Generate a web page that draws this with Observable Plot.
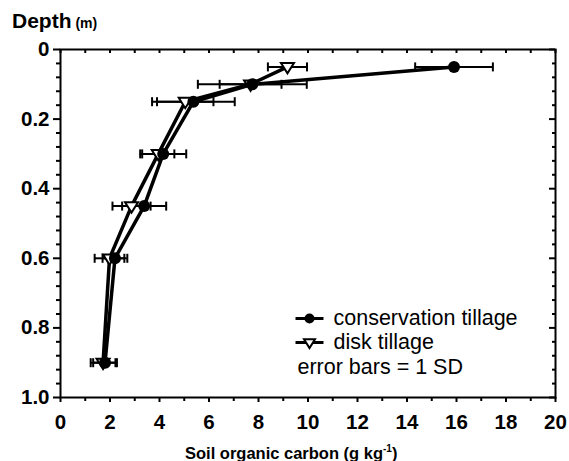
<!DOCTYPE html>
<html><head><meta charset="utf-8">
<script src="https://cdn.jsdelivr.net/npm/d3@7"></script>
<script src="https://cdn.jsdelivr.net/npm/@observablehq/plot@0.6"></script>
<style>
body{margin:0;background:#fff;}
#chart svg text{font-family:"Liberation Sans",Arial,sans-serif;}
</style>
</head><body><div id="chart"></div>
<script>
// Depth (m) of each sample layer
const depths = [0.05, 0.1, 0.15, 0.3, 0.45, 0.6, 0.9];
// Conservation tillage: soil organic carbon (g/kg) and 1 SD
const ctMean = [15.9, 7.75, 5.37, 4.15, 3.38, 2.2, 1.8];
const ctSD   = [1.57, 2.2, 1.67, 0.93, 0.89, 0.5, 0.48];
// Disk tillage
const dtMean = [9.17, 7.68, 5.04, 3.95, 2.87, 1.98, 1.72];
const dtSD   = [0.79, 1.25, 1.14, 0.65, 0.77, 0.6, 0.5];
// Axis ticks
const xLabelTicks = [0, 2, 4, 6, 8, 10, 12, 14, 16, 18, 20];
const xMinorTicks = [1, 3, 5, 7, 9, 11, 13, 15, 17, 19];
const xAllTicks = [0,1,2,3,4,5,6,7,8,9,10,11,12,13,14,15,16,17,18,19,20];
const yLabelTicks = [0, 0.2, 0.4, 0.6, 0.8, 1.0];
const yMinorTicks = [0.04,0.08,0.12,0.16,0.24,0.28,0.32,0.36,0.44,0.48,0.52,0.56,0.64,0.68,0.72,0.76,0.84,0.88,0.92,0.96];
const legendLabels = ["conservation tillage", "disk tillage", "error bars = 1 SD"];

const ct = depths.map((d, i) => ({depth: d, mean: ctMean[i], sd: ctSD[i]}));
const dt = depths.map((d, i) => ({depth: d, mean: dtMean[i], sd: dtSD[i]}));
const all = ct.concat(dt);

const W = 569, H = 461, ML = 60, MR = 14, MT = 49, MB = 64;
const PW = W - ML - MR, PH = H - MT - MB;

const vline = {draw(ctx, size) { const r = Math.sqrt(size / Math.PI); ctx.moveTo(0, -r); ctx.lineTo(0, r); }};
const hline = {draw(ctx, size) { const r = Math.sqrt(size / Math.PI); ctx.moveTo(-r, 0); ctx.lineTo(r, 0); }};
const triDown = {draw(ctx, size) { const r = Math.sqrt(size / Math.PI); ctx.moveTo(-r, -0.6 * r); ctx.lineTo(r, -0.6 * r); ctx.lineTo(0, r); ctx.closePath(); }};
const blank = () => "";

const plot = Plot.plot({
  width: W, height: H,
  marginLeft: ML, marginRight: MR, marginTop: MT, marginBottom: MB,
  style: {background: "white", color: "black", fontFamily: "'Liberation Sans', Arial, sans-serif"},
  x: {domain: [0, 20]},
  y: {domain: [0, 1], reverse: true},
  marks: [
    // axes
    Plot.axisX({ticks: xLabelTicks, tickSize: 5, tickPadding: 12, fontSize: 20.5, label: null, strokeWidth: 2, tickFormat: d => String(d)}),
    Plot.axisX({ticks: xMinorTicks, tickSize: 4, strokeWidth: 2, label: null, tickFormat: blank}),
    Plot.axisY({ticks: yLabelTicks, tickSize: 7, tickPadding: 4, fontSize: 20.5, label: null, strokeWidth: 2, tickFormat: d => d === 0 ? "0" : d.toFixed(1)}),
    Plot.axisY({ticks: yMinorTicks, tickSize: 4, strokeWidth: 2, label: null, tickFormat: blank}),
    // inward ticks on top and right
    Plot.tickX(xAllTicks, {x: d => d, insetBottom: PH - 4, strokeWidth: 2}),
    Plot.tickY(yLabelTicks, {y: d => d, insetLeft: PW - 6, strokeWidth: 2}),
    Plot.tickY(yMinorTicks, {y: d => d, insetLeft: PW - 3, strokeWidth: 2}),
    Plot.frame({strokeWidth: 2}),
    // error bars
    Plot.ruleY(all, {y: "depth", x1: d => d.mean - d.sd, x2: d => d.mean + d.sd, strokeWidth: 2}),
    Plot.dot(all, {x: d => d.mean - d.sd, y: "depth", symbol: vline, r: 4.5, stroke: "black", strokeWidth: 2, fill: "none"}),
    Plot.dot(all, {x: d => d.mean + d.sd, y: "depth", symbol: vline, r: 4.5, stroke: "black", strokeWidth: 2, fill: "none"}),
    // lines
    Plot.line(dt, {x: "mean", y: "depth", stroke: "black", strokeWidth: 3.5}),
    Plot.line(ct, {x: "mean", y: "depth", stroke: "black", strokeWidth: 3.5}),
    // markers
    Plot.dot(dt, {x: "mean", y: "depth", symbol: triDown, r: 6.5, fill: "white", stroke: "black", strokeWidth: 2}),
    Plot.dot(ct, {x: "mean", y: "depth", r: 6, fill: "black", stroke: "none"}),
    // legend
    Plot.dot([0], {x: null, y: null, frameAnchor: "top-left", dx: 249, dy: 269, symbol: hline, r: 14, stroke: "black", strokeWidth: 3}),
    Plot.dot([0], {x: null, y: null, frameAnchor: "top-left", dx: 249, dy: 269, r: 5, fill: "black", stroke: "none"}),
    Plot.dot([0], {x: null, y: null, frameAnchor: "top-left", dx: 249, dy: 293, symbol: hline, r: 14, stroke: "black", strokeWidth: 3}),
    Plot.dot([0], {x: null, y: null, frameAnchor: "top-left", dx: 249, dy: 293, symbol: triDown, r: 5.5, fill: "white", stroke: "black", strokeWidth: 2}),
    Plot.text([legendLabels[0]], {x: null, y: null, text: d => d, frameAnchor: "top-left", dx: 273, dy: 269, textAnchor: "start", lineAnchor: "middle", fontSize: 21.5}),
    Plot.text([legendLabels[1]], {x: null, y: null, text: d => d, frameAnchor: "top-left", dx: 273, dy: 293, textAnchor: "start", lineAnchor: "middle", fontSize: 21.5}),
    Plot.text([legendLabels[2]], {x: null, y: null, text: d => d, frameAnchor: "top-left", dx: 237, dy: 318, textAnchor: "start", lineAnchor: "middle", fontSize: 21.5})
  ]
});

const svg = d3.select(plot);
// bold tick labels, regular legend text
svg.selectAll("text").each(function() {
  const isLegend = legendLabels.includes(this.textContent);
  d3.select(this).style("font-weight", isLegend ? "normal" : "bold");
});
// y-axis title
const t1 = svg.append("text").attr("x", 12).attr("y", 28).attr("text-anchor", "start").style("font-weight", "bold").attr("fill", "black");
t1.append("tspan").attr("font-size", 21).text("Depth");
t1.append("tspan").attr("font-size", 14).text(" (m)");
// x-axis title
const t2 = svg.append("text").attr("x", 185).attr("y", 459).attr("text-anchor", "start").style("font-weight", "bold").attr("font-size", 16.5).attr("fill", "black");
t2.append("tspan").text("Soil organic carbon (g kg");
t2.append("tspan").attr("font-size", 10).attr("dy", -7).text("-1");
t2.append("tspan").attr("dy", 7).text(")");

document.getElementById("chart").appendChild(plot);
</script>
</body></html>
